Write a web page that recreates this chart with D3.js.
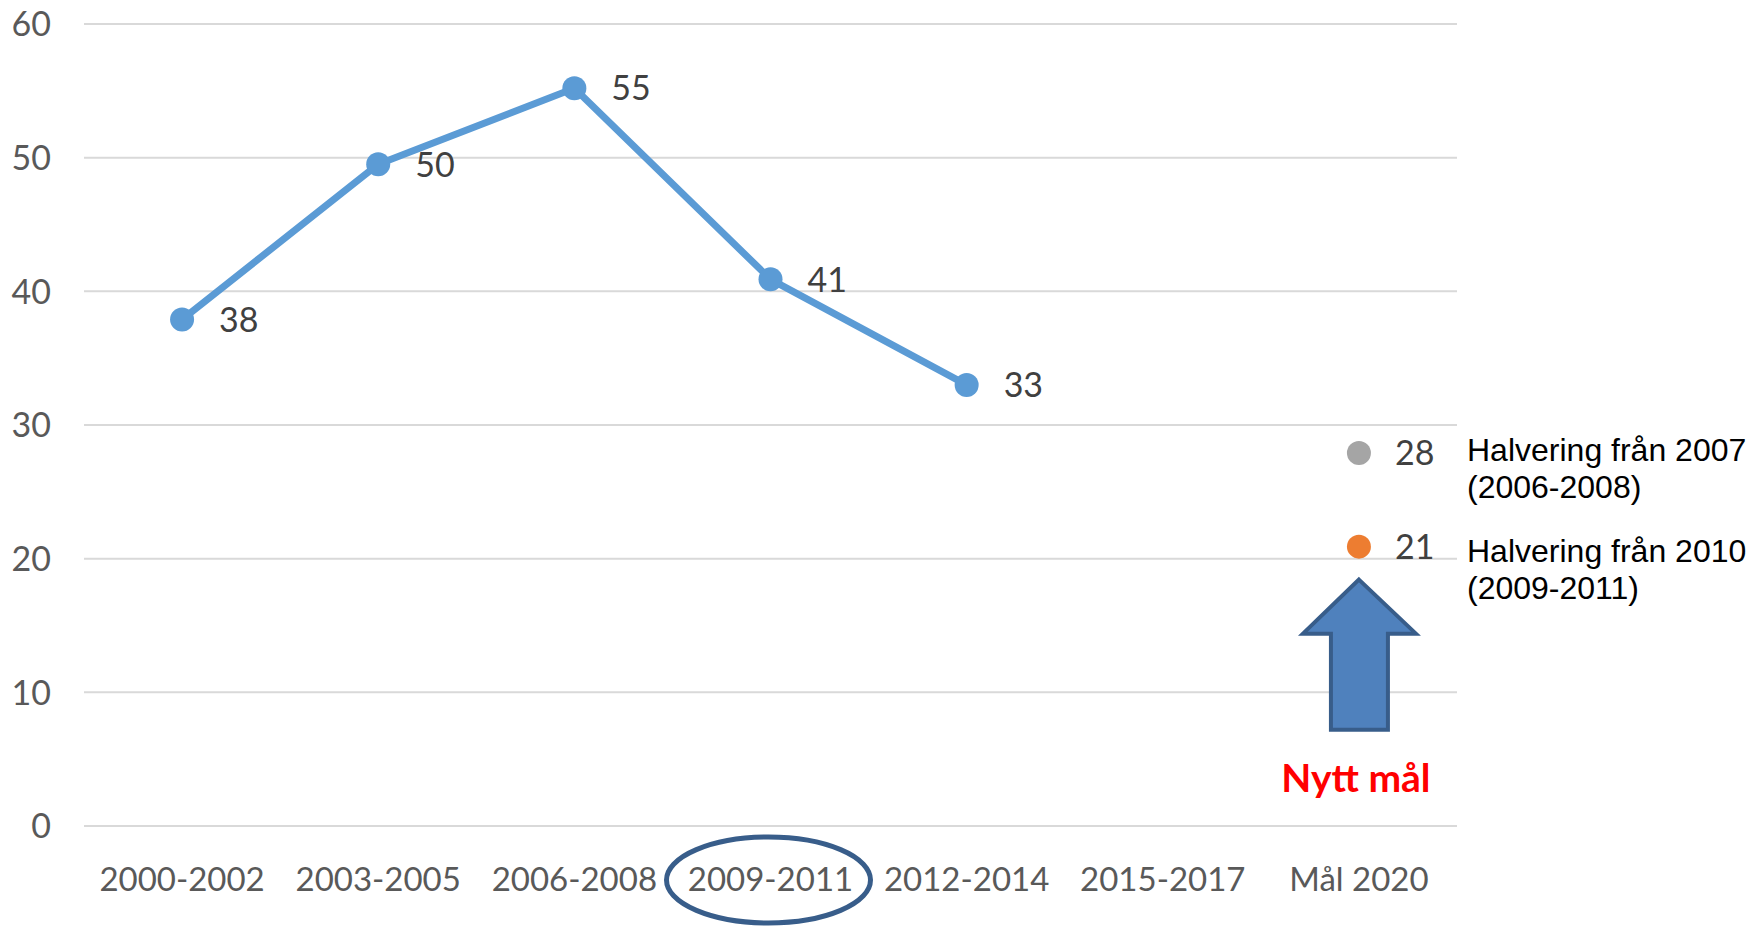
<!DOCTYPE html>
<html>

<head>
  <meta charset="utf-8">
  <title>Halvering</title>
  <style>
    body { margin: 0; background: #fff; }
    svg { display: block; }
  </style>
</head>

<body>
  <svg></svg>
  <script src="https://d3js.org/d3.v7.min.js"></script>
  <script>
    // data
    const categories = ["2000-2002", "2003-2005", "2006-2008", "2009-2011", "2012-2014", "2015-2017", "Mål 2020"];
    const periods = ["2000-2002", "2003-2005", "2006-2008", "2009-2011", "2012-2014"];
    const values = [37.9, 49.5, 55.2, 40.9, 33.0];
    const valueLabels = ["38", "50", "55", "41", "33"];
    const goalValues = [27.9, 20.9];
    const goalLabels = ["28", "21"];
    const goalColors = ["#a5a5a5", "#ed7d31"];
    const goalText = [["Halvering från 2007", "(2006-2008)"], ["Halvering från 2010", "(2009-2011)"]];
    const yTicks = [0, 10, 20, 30, 40, 50, 60];
    const highlighted = "2009-2011";
    const goalCategory = "Mål 2020";

    const width = 1762;
    const height = 927;

    const x = d3.scaleBand(categories, [84, 1457]);
    const y = d3.scaleLinear([0, 60], [826, 24]);
    const cx = c => x(c) + x.bandwidth() / 2;

    const svg = d3.select("svg")
      .attr("width", width)
      .attr("height", height)
      .attr("viewBox", [0, 0, width, height]);

    const axisFont = "Lato, 'Open Sans', sans-serif";

    // gridlines
    svg.append("g")
      .selectAll("line")
      .data(yTicks)
      .join("line")
      .attr("x1", 84)
      .attr("x2", 1457)
      .attr("y1", d => y(d))
      .attr("y2", d => y(d))
      .attr("stroke", "#d9d9d9")
      .attr("stroke-width", 2);

    // y tick labels
    svg.append("g")
      .selectAll("text")
      .data(yTicks)
      .join("text")
      .attr("x", 51)
      .attr("y", d => y(d))
      .attr("dy", "0.36em")
      .attr("text-anchor", "end")
      .attr("font-family", axisFont)
      .attr("font-size", 34)
      .attr("fill", "#595959")
      .text(d => d);

    // category labels
    svg.append("g")
      .selectAll("text")
      .data(categories)
      .join("text")
      .attr("x", d => cx(d))
      .attr("y", 891)
      .attr("text-anchor", "middle")
      .attr("font-family", axisFont)
      .attr("font-size", 33)
      .attr("fill", "#595959")
      .text(d => d);

    // circle round the base period
    svg.append("ellipse")
      .attr("cx", cx(highlighted) - 2)
      .attr("cy", 880)
      .attr("rx", 102)
      .attr("ry", 43)
      .attr("fill", "none")
      .attr("stroke", "#385d8a")
      .attr("stroke-width", 5);

    // main series
    const line = d3.line()
      .x((d, i) => cx(periods[i]))
      .y(d => y(d));

    svg.append("path")
      .datum(values)
      .attr("d", line)
      .attr("fill", "none")
      .attr("stroke", "#5b9bd5")
      .attr("stroke-width", 7)
      .attr("stroke-linejoin", "round");

    svg.append("g")
      .selectAll("circle")
      .data(values)
      .join("circle")
      .attr("cx", (d, i) => cx(periods[i]))
      .attr("cy", d => y(d))
      .attr("r", 12)
      .attr("fill", "#5b9bd5");

    svg.append("g")
      .selectAll("text")
      .data(values)
      .join("text")
      .attr("x", (d, i) => cx(periods[i]) + 37)
      .attr("y", d => y(d))
      .attr("dy", "0.36em")
      .attr("font-family", axisFont)
      .attr("font-size", 34)
      .attr("fill", "#404040")
      .text((d, i) => valueLabels[i]);

    // goal points
    const gx = cx(goalCategory);
    svg.append("g")
      .selectAll("circle")
      .data(goalValues)
      .join("circle")
      .attr("cx", gx)
      .attr("cy", d => y(d))
      .attr("r", 12)
      .attr("fill", (d, i) => goalColors[i]);

    svg.append("g")
      .selectAll("text")
      .data(goalValues)
      .join("text")
      .attr("x", gx + 36)
      .attr("y", d => y(d))
      .attr("dy", "0.36em")
      .attr("font-family", axisFont)
      .attr("font-size", 34)
      .attr("fill", "#404040")
      .text((d, i) => goalLabels[i]);

    // side notes
    const noteShift = [8, 15];
    const notes = svg.append("g")
      .selectAll("text")
      .data(goalValues)
      .join("text")
      .attr("font-family", "'Liberation Sans', Arial, sans-serif")
      .attr("font-size", 32)
      .attr("fill", "#000");
    notes.each(function (d, i) {
      d3.select(this).selectAll("tspan")
        .data(goalText[i])
        .join("tspan")
        .attr("x", 1467)
        .attr("y", (t, j) => y(d) + noteShift[i] + j * 37)
        .text(t => t);
    });

    // arrow up to the new goal
    const tip = y(goalValues[1]) + 33;
    const arrow = [
      [gx, tip],
      [gx + 57, tip + 54],
      [gx + 29, tip + 54],
      [gx + 29, tip + 150],
      [gx - 28, tip + 150],
      [gx - 28, tip + 54],
      [gx - 56, tip + 54]
    ];
    svg.append("path")
      .attr("d", d3.line()(arrow) + "Z")
      .attr("fill", "#4f81bd")
      .attr("stroke", "#385d8a")
      .attr("stroke-width", 4)
      .attr("stroke-linejoin", "miter");

    svg.append("text")
      .attr("x", gx - 3)
      .attr("y", 792)
      .attr("text-anchor", "middle")
      .attr("font-family", axisFont)
      .attr("font-weight", "bold")
      .attr("font-size", 39)
      .attr("fill", "#ff0000")
      .text("Nytt mål");
  </script>
</body>

</html>
